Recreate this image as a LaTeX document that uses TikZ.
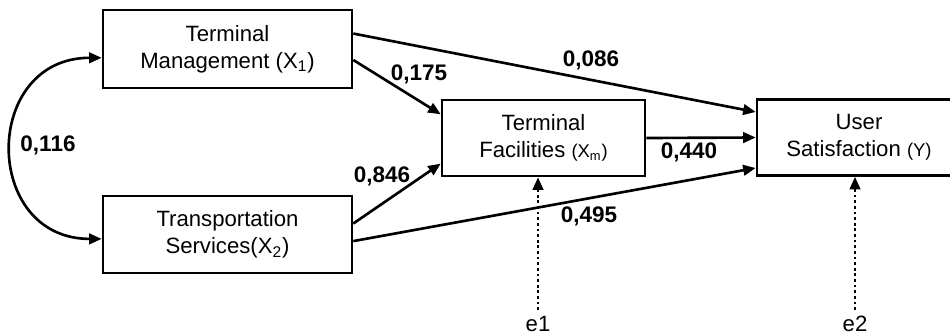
\documentclass[tikz,border=0pt]{standalone}
\usepackage{fontspec}
\setmainfont{Liberation Sans}
\usetikzlibrary{arrows.meta}

\begin{document}
\begin{tikzpicture}[x=0.2mm, y=-0.2mm,
        >={Triangle[length=2.5mm,width=2.1mm]},
        every node/.style={font=\fontsize{12.6}{15.6}\selectfont},
        box/.style={draw, line width=1.5pt, align=center, inner sep=0pt},
        link/.style={line width=1.5pt, ->},
        err/.style={line width=1.5pt, ->, dash pattern=on 1.6pt off 1.6pt},
        coef/.style={font=\fontsize{12.8}{15.6}\selectfont\bfseries}]
        \useasboundingbox (0,0) rectangle (950,335);

        \node[box, minimum width=49.8mm, minimum height=15.6mm] (a) at (227.5, 49) {Terminal\\Management (X\textsubscript{1})};
        \node[box, minimum width=49.8mm, minimum height=15.4mm] (b) at (227.5, 234.5) {Transportation\\Services(X\textsubscript{2})};
        \node[box, minimum width=40.6mm, minimum height=15.2mm] (c) at (543.5, 138) {Terminal\\Facilities {\fontsize{10.5}{12}\selectfont(X\textsubscript{m})}};
        \node[box, minimum width=50mm, minimum height=15.2mm] (d) at (882, 137.5) {};
        \node[align=center] (dt) at (859, 137.5) {User\\Satisfaction {\fontsize{10.5}{12}\selectfont(Y)}};

        \node (e1) at (538, 324) {e1};
        \node (e2) at (855, 324) {e2};

        \draw[link, <->] (a.184) to[out=180, in=180, looseness=1.7] (b.182);
        \draw[link] (a.7) -- (d.west |- 0,112);
        \draw[link] (a.355) -- (c.167);
        \draw[link] (b.5) -- (c.194);
        \draw[link] (b.357) -- (d.west |- 0,168);
        \draw[link] (c.east) -- (d.west);
        \draw[err] (e1.north) -- (e1.north |- c.south);
        \draw[err] (e2.north) -- (e2.north |- d.south);

        \node[coef] (w1) at (48, 145) {0,116};
        \node[coef] (w2) at (419, 74) {0,175};
        \node[coef] (w3) at (591, 60) {0,086};
        \node[coef] (w4) at (382, 176) {0,846};
        \node[coef] (w5) at (689, 152.5) {0,440};
        \node[coef] (w6) at (589, 216) {0,495};

    \end{tikzpicture}
\end{document}
